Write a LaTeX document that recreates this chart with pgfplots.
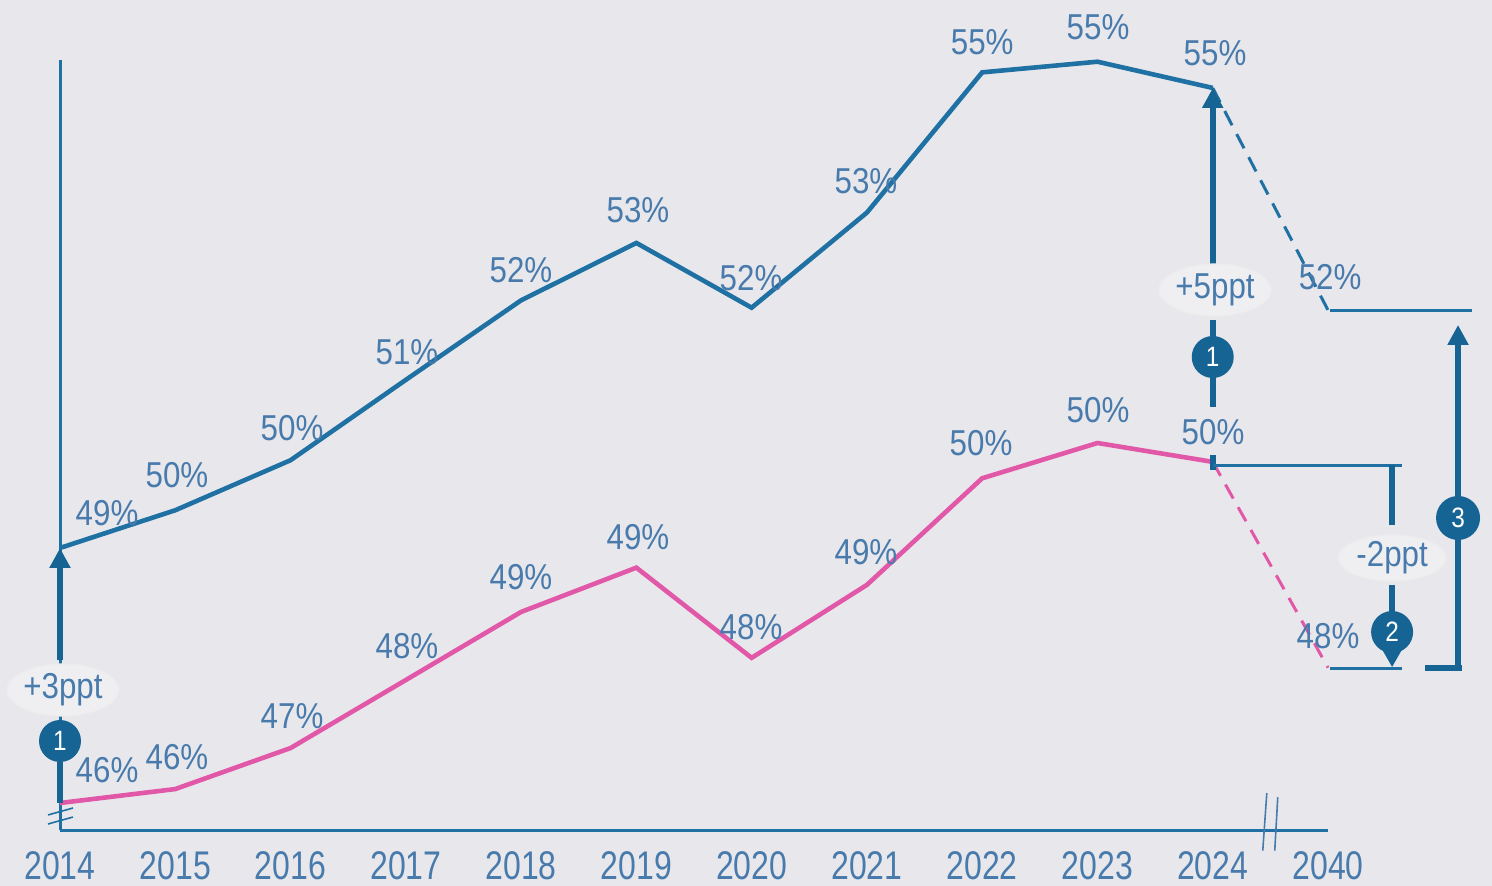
\documentclass[border=0pt]{standalone}
\usepackage{pgfplots}
\pgfplotsset{compat=1.18}
\usepackage{fontspec}
\setmainfont{Liberation Sans}[FakeStretch=0.87]
\newfontfamily\tickfont{Liberation Sans}[FakeStretch=0.8]
\usetikzlibrary{arrows.meta,shapes.geometric}
\definecolor{bg}{RGB}{232,232,236}
\definecolor{lineblue}{RGB}{31,112,163}
\definecolor{txtblue}{RGB}{72,122,172}
\definecolor{pinkline}{RGB}{226,88,168}
\definecolor{dotblue}{RGB}{22,100,148}
\begin{document}
\begin{tikzpicture}[
  lab/.style={font=\fontsize{18}{20}\selectfont, text=txtblue, inner sep=0pt},
  ell/.style={ellipse, fill=white!30!bg, draw=white!85!gray, line width=0.6pt, inner sep=0pt, font=\fontsize{18}{20}\selectfont, text=txtblue},
  num/.style={circle, fill=dotblue, inner sep=0pt, minimum size=21pt, text=white, font=\fontsize{14}{16}\selectfont},
]
\fill[bg] (0,0) rectangle (746pt,-443pt);
\begin{axis}[at={(30pt,-415pt)}, anchor=south west, scale only axis,
  width=634pt, height=385pt,
  xmin=0, xmax=11, ymin=45.6707, ymax=55.061,
  axis x line=bottom, axis y line=left,
  axis line style={-, line width=1.5pt, lineblue},
  xtick={0,...,11},
  xticklabels={2014,2015,2016,2017,2018,2019,2020,2021,2022,2023,2024,2040},
  ytick=\empty, major tick length=0pt, xtick style={draw=none},
  xticklabel style={font=\tickfont\fontsize{20}{24}\selectfont, text=txtblue, inner sep=0pt, yshift=-10.5pt},
  clip=false,
]
% blue series
\addplot[lineblue, line width=2.3pt] coordinates {
(0,49.11)(1,49.57)(2,50.18)(3,51.16)(4,52.13)(5,52.83)(6,52.04)(7,53.20)(8,54.91)(9,55.04)(10,54.72)};
\addplot[lineblue, line width=1.5pt, dash pattern=on 8pt off 5pt] coordinates {(10,54.72)(11,52.01)};
% pink series
\addplot[pinkline, line width=2.3pt] coordinates {
(0,46.00)(1,46.17)(2,46.67)(3,47.50)(4,48.33)(5,48.87)(6,47.77)(7,48.66)(8,49.96)(9,50.39)(10,50.16)};
\addplot[pinkline, line width=1.5pt, dash pattern=on 8pt off 5pt] coordinates {(10,50.16)(11,47.65)};

% value labels blue
\node[lab] at (axis cs:0.408,49.537) {49\%};
\node[lab] at (axis cs:1.015,50.0) {50\%};
\node[lab] at (axis cs:2.013,50.573) {50\%};
\node[lab] at (axis cs:3.010,51.5) {51\%};
\node[lab] at (axis cs:3.999,52.5) {52\%};
\node[lab] at (axis cs:5.014,53.232) {53\%};
\node[lab] at (axis cs:5.995,52.402) {52\%};
\node[lab] at (axis cs:6.992,53.585) {53\%};
\node[lab] at (axis cs:8.0,55.28) {55\%};
\node[lab] at (axis cs:9.005,55.463) {55\%};
\node[lab] at (axis cs:10.02,55.146) {55\%};
\node[lab] at (axis cs:11.018,52.415) {52\%};
% value labels pink
\node[lab] at (axis cs:0.408,46.402) {46\%};
\node[lab] at (axis cs:1.015,46.561) {46\%};
\node[lab] at (axis cs:2.013,47.061) {47\%};
\node[lab] at (axis cs:3.010,47.915) {48\%};
\node[lab] at (axis cs:3.999,48.756) {49\%};
\node[lab] at (axis cs:5.014,49.244) {49\%};
\node[lab] at (axis cs:5.995,48.146) {48\%};
\node[lab] at (axis cs:6.992,49.061) {49\%};
\node[lab] at (axis cs:7.99,50.390) {50\%};
\node[lab] at (axis cs:9.005,50.793) {50\%};
\node[lab] at (axis cs:10.003,50.524) {50\%};
\node[lab] at (axis cs:11.0,48.037) {48\%};

% axis breaks
\draw[lineblue, line width=0.8pt] (axis cs:-0.104,45.854) -- (axis cs:0.113,45.939);
\draw[lineblue, line width=0.8pt] (axis cs:-0.104,45.744) -- (axis cs:0.113,45.829);
\draw[txtblue, line width=0.8pt] (axis cs:10.469,46.12) -- (axis cs:10.434,45.42);
\draw[txtblue, line width=0.8pt] (axis cs:10.564,46.07) -- (axis cs:10.538,45.42);

% annotation 1 left
\draw[dotblue, line width=3pt, -{Triangle[width=10pt,length=10pt]}] (axis cs:0,47.74) -- (axis cs:0,49.11);
\draw[dotblue, line width=3pt] (axis cs:0,46.5) -- (axis cs:0,46.0);
\node[ell, minimum width=55pt, minimum height=26pt] at (axis cs:0.026,47.378) {+3ppt};
\node[num] at (axis cs:0,46.756) {1};

% annotation 1 middle
\draw[dotblue, line width=3pt, -{Triangle[width=10pt,length=10pt]}] (axis cs:10,52.56) -- (axis cs:10,54.72);
\draw[dotblue, line width=3pt] (axis cs:10,51.89) -- (axis cs:10,50.83);
\draw[dotblue, line width=3pt] (axis cs:10,50.24) -- (axis cs:10,50.06);
\node[ell, minimum width=55pt, minimum height=26pt] at (axis cs:10.02,52.256) {+5ppt};
\node[num] at (axis cs:10,51.439) {1};

% reference lines
\draw[lineblue, line width=1.5pt] (axis cs:10,50.12) -- (axis cs:11.642,50.12);
\draw[lineblue, line width=1.5pt] (axis cs:11.018,52.012) -- (axis cs:12.25,52.012);
\draw[lineblue, line width=1.5pt] (axis cs:11.018,47.646) -- (axis cs:11.642,47.646);

% annotation 2
\draw[dotblue, line width=3pt] (axis cs:11.556,50.12) -- (axis cs:11.556,49.39);
\draw[dotblue, line width=3pt] (axis cs:11.556,48.66) -- (axis cs:11.556,48.2);
\node[ell, minimum width=54pt, minimum height=23pt] at (axis cs:11.556,48.988) {-2ppt};
\fill[dotblue] (axis cs:11.45,47.92) -- (axis cs:11.662,47.92) -- (axis cs:11.556,47.66) -- cycle;
\node[num] at (axis cs:11.556,48.085) {2};

% annotation 3
\draw[dotblue, line width=3pt, -{Triangle[width=10pt,length=10pt]}] (axis cs:12.128,47.646) -- (axis cs:12.128,51.83);
\draw[dotblue, line width=3pt] (axis cs:11.842,47.646) -- (axis cs:12.16,47.646);
\node[num, minimum size=22pt] at (axis cs:12.128,49.476) {3};
\end{axis}
\pgfresetboundingbox
\useasboundingbox (0,0) rectangle (746pt,-443pt);
\end{tikzpicture}
\end{document}
